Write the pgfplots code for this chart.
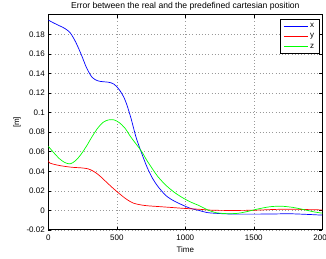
\documentclass[border=0pt]{standalone}
\usepackage{pgfplots}
\pgfplotsset{compat=1.18}
\usepackage{fontspec}
\setmainfont{Liberation Sans}
\pgfplotsset{mylegend/.style={legend image code/.code={\draw[##1, line width=0.8pt] (0pt,0pt) -- (24pt,0pt);}}}
\begin{document}
\begin{tikzpicture}
\begin{axis}[
  at={(0,0)}, anchor=south west,
  scale only axis, width=274pt, height=215.3pt,
  xmin=0, xmax=2000, ymin=-0.02, ymax=0.2,
  xtick={0,500,1000,1500,2000},
  ytick={-0.02,0,0.02,0.04,0.06,0.08,0.1,0.12,0.14,0.16,0.18},
  scaled ticks=false,
  /pgf/number format/assume math mode=true,
  /pgf/number format/set thousands separator={},
  yticklabel style={/pgf/number format/fixed,/pgf/number format/precision=2},
  ticklabel style={font=\fontsize{8}{9.6}\selectfont},
  xticklabel style={yshift=-1.5pt},
  label style={font=\fontsize{8}{9.6}\selectfont},
  title style={font=\fontsize{8.6}{10}\selectfont, yshift=-5pt},
  title={Error between the real and the predefined cartesian position},
  xlabel={Time}, ylabel={[m]},
  xlabel style={yshift=1pt},
  ylabel style={yshift=-1pt},
  grid=major, grid style={dash pattern=on 0.6pt off 2.6pt, gray!80, line width=0.6pt},
  axis line style={line width=1pt},
  major tick length=3pt,
  tick style={black, line width=0.5pt},
  mylegend,
  legend style={at={(rel axis cs:0.9905,0.98)}, anchor=north east, draw=black, line width=1pt,
    font=\fontsize{8}{9.6}\selectfont, inner xsep=3pt, inner ysep=2pt, row sep=0.5pt, cells={anchor=west}},
]
\addplot[blue, line width=0.7pt, smooth] coordinates {
(0,0.1945) (40,0.1915) (80,0.1888) (120,0.1860) (160,0.1815) (200,0.1720) (240,0.1595) (280,0.1455) (320,0.1360) (360,0.1325) (400,0.1315) (440,0.1310) (480,0.1290) (520,0.1230) (560,0.1130) (600,0.0960) (640,0.0750) (680,0.0590) (720,0.0445) (760,0.0330) (800,0.0245) (860,0.0150) (920,0.0095) (980,0.0055) (1040,0.0020) (1100,0.0000) (1160,-0.0022) (1250,-0.0032) (1350,-0.0037) (1500,-0.0038) (1650,-0.0036) (1760,-0.0034) (1880,-0.0040) (2000,-0.0048)
};
\addlegendentry{x}
\addplot[red, line width=0.7pt, smooth] coordinates {
(0,0.0510) (10,0.0485) (60,0.0465) (120,0.0450) (180,0.0440) (240,0.0435) (290,0.0425) (330,0.0400) (370,0.0360) (420,0.0295) (470,0.0230) (520,0.0170) (570,0.0115) (620,0.0075) (670,0.0058) (720,0.0048) (800,0.0040) (900,0.0030) (1000,0.0020) (1100,0.0012) (1200,0.0002) (1350,0.0000) (1500,0.0002) (1650,0.0010) (1750,0.0013) (1850,0.0010) (2000,0.0005)
};
\addlegendentry{y}
\addplot[green, line width=0.7pt, smooth] coordinates {
(0,0.0655) (40,0.0590) (80,0.0530) (120,0.0490) (160,0.0476) (200,0.0510) (240,0.0575) (280,0.0660) (320,0.0755) (360,0.0840) (400,0.0900) (440,0.0925) (480,0.0925) (520,0.0895) (560,0.0840) (600,0.0755) (640,0.0680) (680,0.0605) (720,0.0510) (760,0.0425) (800,0.0345) (860,0.0255) (920,0.0185) (980,0.0130) (1040,0.0085) (1100,0.0050) (1160,0.0008) (1220,-0.0022) (1300,-0.0033) (1380,-0.0030) (1450,-0.0012) (1530,0.0015) (1620,0.0038) (1700,0.0043) (1780,0.0032) (1860,0.0010) (1940,-0.0015) (2000,-0.0028)
};
\addlegendentry{z}
\end{axis}
\pgfresetboundingbox
\path[use as bounding box] (-48.3pt,-29pt) rectangle (277.7pt,230pt);
\end{tikzpicture}
\end{document}
